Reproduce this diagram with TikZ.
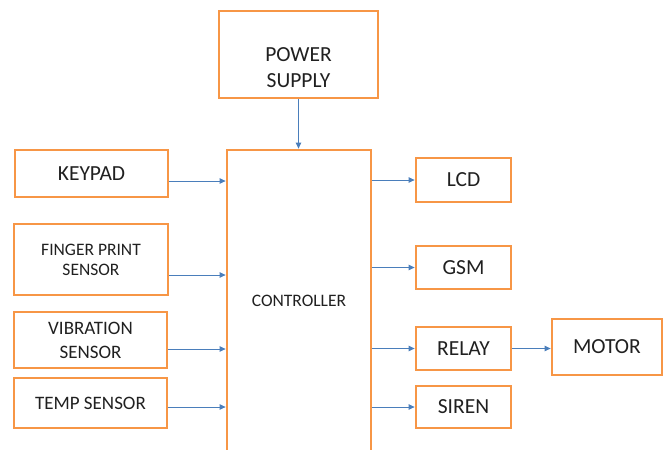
\documentclass[tikz,border=0pt]{standalone}
\usepackage{fontspec}
\setmainfont{Carlito}
\usepackage{xcolor}
\usetikzlibrary{arrows.meta,positioning,calc}

\definecolor{boxorange}{HTML}{F79646}
\definecolor{arrblue}{HTML}{4A7EBB}
\definecolor{txtgray}{HTML}{202020}

\begin{document}
\begin{tikzpicture}[
    x=1pt, y=-1pt,
    box/.style={draw=boxorange, line width=2.8pt, align=center, inner sep=0pt,
                text=txtgray, font=\fontsize{21.5}{26}\selectfont},
    small/.style={font=\fontsize{19}{24}\selectfont},
    arr/.style={-{Triangle[length=6pt,width=5.5pt]}, draw=arrblue, fill=arrblue, line width=0.8pt}
]

\useasboundingbox (0,0) rectangle (665,450);
\clip (0,0) rectangle (665,450);

\node[box, minimum width=159pt, minimum height=87pt] (power) at (298.5,54.5)
    {\rule{0pt}{40pt}POWER\\SUPPLY};

\node[box, minimum width=144pt, minimum height=302pt,
      font=\fontsize{17.5}{21}\selectfont] (ctrl) at (299,301)
    {CONTROLLER};

% inputs
\node[box, minimum width=153pt, minimum height=47pt] (key) at (91.5,173.5)
    {KEYPAD};
\node[box, minimum width=154pt, minimum height=71pt,
      font=\fontsize{17.5}{20}\selectfont] (finger) at (91,259.5)
    {FINGER PRINT\\SENSOR};
\node[box, small, minimum width=153pt, minimum height=56pt] (vib) at (90.5,340)
    {VIBRATION\\SENSOR};
\node[box, small, minimum width=153pt, minimum height=50pt] (temp) at (90.5,403)
    {TEMP SENSOR};

% outputs
\node[box, minimum width=95pt, minimum height=44pt] (lcd) at (463.5,180)
    {LCD};
\node[box, minimum width=95pt, minimum height=43pt] (gsm) at (463.5,267.5)
    {GSM};
\node[box, minimum width=95pt, minimum height=43pt] (relay) at (463.5,348.5)
    {RELAY};
\node[box, minimum width=95pt, minimum height=42pt] (siren) at (463.5,407)
    {SIREN};
\node[box, minimum width=110pt, minimum height=56pt] (motor) at (607,347)
    {MOTOR};

\draw[arr] (power.south) -- (power.south |- ctrl.north);

\foreach \a/\s in {key/-7.5,finger/-15.5,vib/-9,temp/-4}{
    \draw[arr] ([yshift=\s pt]\a.east) -- ([yshift=\s pt]\a.east -| ctrl.west);
}

\foreach \b in {lcd,gsm,relay,siren}{
    \draw[arr] (\b.west -| ctrl.east) -- (\b.west);
}

\draw[arr] (relay.east) -- (relay.east -| motor.west);

\end{tikzpicture}
\end{document}
